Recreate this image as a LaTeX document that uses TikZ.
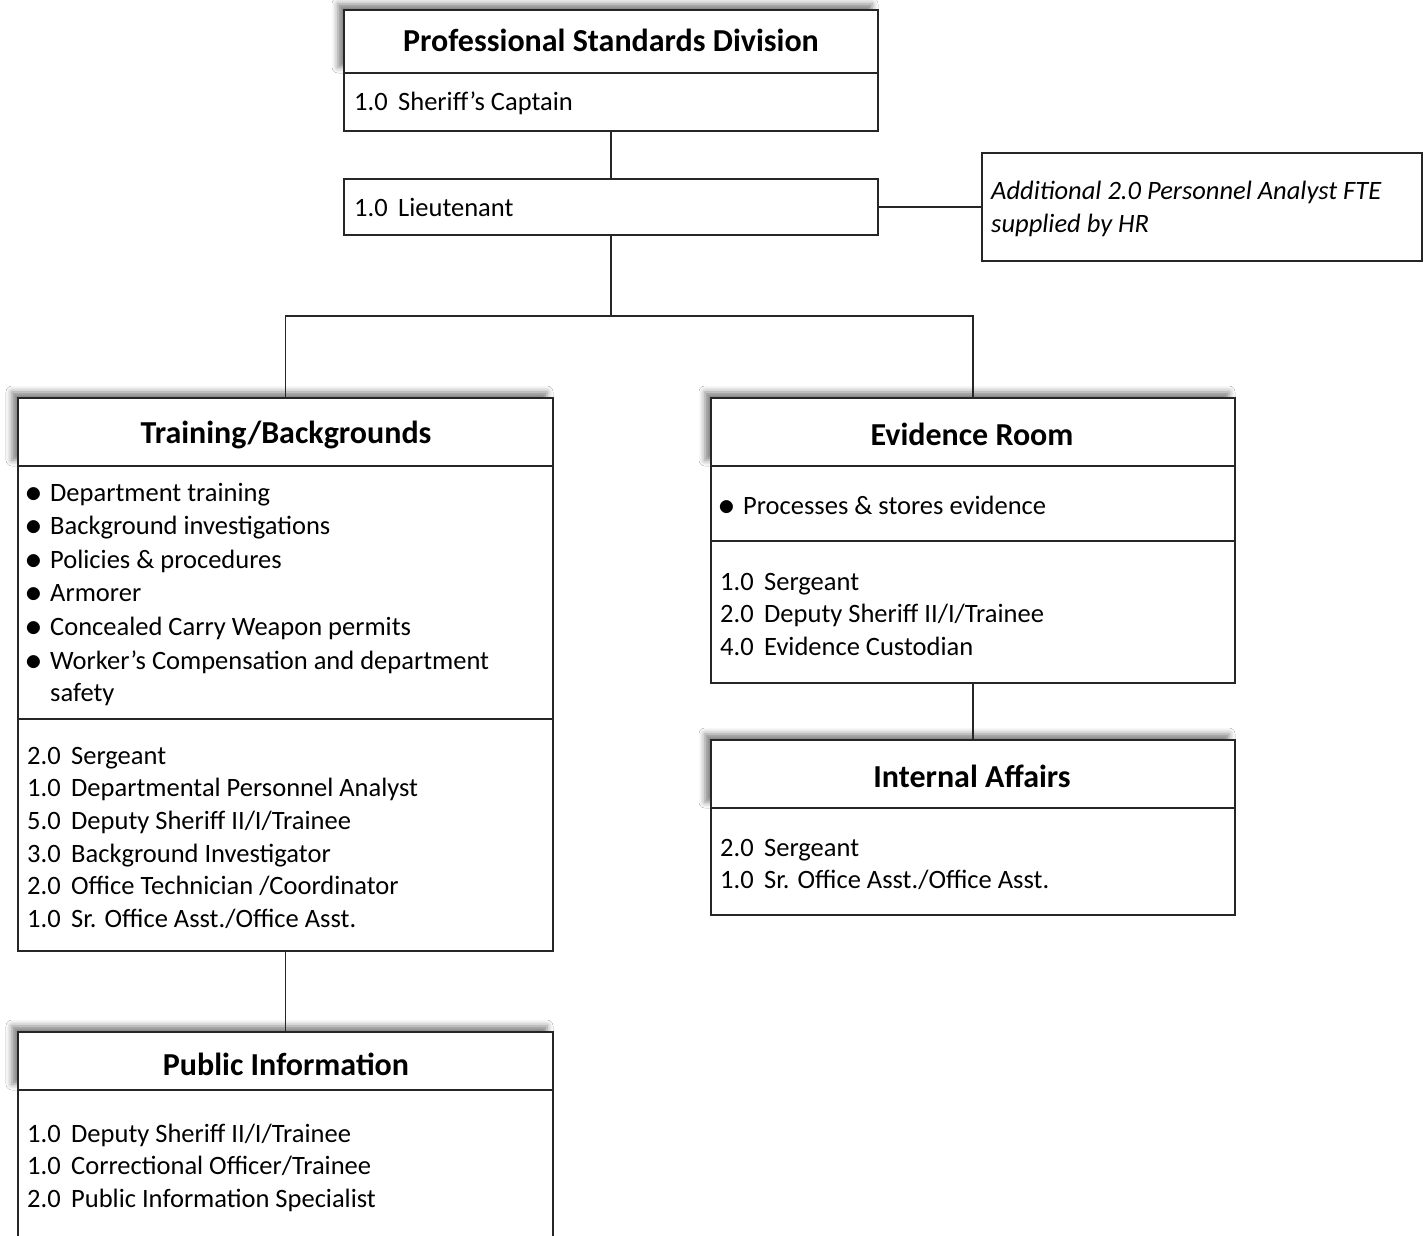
\documentclass[tikz,border=0pt]{standalone}
\usepackage{fontspec}
\setmainfont{Carlito}
\usetikzlibrary{shadows.blur}
\tikzset{
  cell/.style={draw=black!85, line width=1.3pt, fill=white, inner sep=0pt, outer sep=0pt, anchor=north west},
  headcell/.style={cell, blur shadow={shadow xshift=-6pt, shadow yshift=6pt, shadow blur radius=6pt, shadow opacity=50}},
  conn/.style={draw=black!85, line width=1.3pt},
  ttl/.style={font=\fontsize{32}{38}\selectfont\bfseries, inner sep=0pt},
  txt/.style={font=\fontsize{26.5}{32}\selectfont, inner sep=0pt, anchor=base west},
  itxt/.style={txt, font=\fontsize{26.5}{32}\selectfont\itshape},
}
\newcommand\num[1]{\makebox[44pt][l]{#1}}
\newcommand\bul{\makebox[23pt][l]{\hspace{-1.5pt}\raisebox{-1pt}{\scalebox{1.35}{$\bullet$}}}}
\begin{document}
\begin{tikzpicture}[x=1pt,y=-1pt]
\clip (0,0) rectangle (1425,1236);
\fill[white] (0,0) rectangle (1425,1236);
% cells
\node[headcell, minimum width=534pt, minimum height=63pt] (psdh) at (344,10) {};
\node[cell, minimum width=534pt, minimum height=58pt] (psdb) at (344,73) {};
\node[cell, minimum width=534pt, minimum height=56pt] (lt) at (344,179) {};
\node[cell, minimum width=440pt, minimum height=108pt] (hr) at (982,153) {};
\node[headcell, minimum width=535pt, minimum height=68pt] (trh) at (18,398) {};
\node[cell, minimum width=535pt, minimum height=253pt] (trb1) at (18,466) {};
\node[cell, minimum width=535pt, minimum height=232pt] (trb2) at (18,719) {};
\node[headcell, minimum width=524pt, minimum height=68pt] (evh) at (711,398) {};
\node[cell, minimum width=524pt, minimum height=75pt] (evb1) at (711,466) {};
\node[cell, minimum width=524pt, minimum height=142pt] (evb2) at (711,541) {};
\node[headcell, minimum width=524pt, minimum height=68pt] (iah) at (711,740) {};
\node[cell, minimum width=524pt, minimum height=107pt] (iab) at (711,808) {};
\node[headcell, minimum width=535pt, minimum height=58pt] (pih) at (18,1032) {};
\node[cell, minimum width=535pt, minimum height=180pt] (pib) at (18,1090) {};
% connectors
\coordinate (bus) at (611,316);
\draw[conn] (psdb.south) -- (lt.north);
\draw[conn] (lt.east) -- (hr.west);
\draw[conn] (lt.south) -- (bus);
\draw[conn] (bus) -| (trh.north);
\draw[conn] (bus) -| (evh.north);
\draw[conn] (evb2.south) -- (iah.north);
\draw[conn] (trb2.south) -- (pih.north);
% titles
\node[ttl] (psdt) at (611,40) {Professional Standards Division};
\node[ttl] (trt) at (286,435) {Training/Backgrounds};
\node[ttl] (evt) at (972,434) {Evidence Room};
\node[ttl] (iat) at (972,776) {Internal Affairs};
\node[ttl] (pit) at (286,1064) {Public Information};
% texts
\node[txt] (cap) at (354,111) {\num{1.0}Sheriff’s Captain};
\node[txt] (ltt) at (354,216) {\num{1.0}Lieutenant};
\node[itxt] (hr1) at (991,200) {Additional 2.0 Personnel Analyst FTE};
\node[itxt] (hr2) at (991,233) {supplied by HR};
% training duties
\node[txt] (d1) at (27,501) {\bul Department training};
\node[txt] (d2) at (27,534) {\bul Background investigations};
\node[txt] (d3) at (27,568) {\bul Policies \& procedures};
\node[txt] (d4) at (27,601) {\bul Armorer};
\node[txt] (d5) at (27,635) {\bul Concealed Carry Weapon permits};
\node[txt] (d6) at (27,669) {\bul Worker’s Compensation and department};
\node[txt] (d7) at (50,701) {safety};
% training staff
\node[txt] (s1) at (27,764) {\num{2.0}Sergeant};
\node[txt] (s2) at (27,796) {\num{1.0}Departmental Personnel Analyst};
\node[txt] (s3) at (27,829) {\num{5.0}Deputy Sheriff II/I/Trainee};
\node[txt] (s4) at (27,862) {\num{3.0}Background Investigator};
\node[txt] (s5) at (27,894) {\num{2.0}Office Technician /Coordinator};
\node[txt] (s6) at (27,927) {\num{1.0}Sr. Office Asst./Office Asst.};
% evidence
\node[txt] (e0) at (720,514) {\bul Processes \& stores evidence};
\node[txt] (e1) at (720,590) {\num{1.0}Sergeant};
\node[txt] (e2) at (720,622) {\num{2.0}Deputy Sheriff II/I/Trainee};
\node[txt] (e3) at (720,655) {\num{4.0}Evidence Custodian};
% internal affairs
\node[txt] (i1) at (720,856) {\num{2.0}Sergeant};
\node[txt] (i2) at (720,888) {\num{1.0}Sr. Office Asst./Office Asst.};
% public information
\node[txt] (p1) at (27,1142) {\num{1.0}Deputy Sheriff II/I/Trainee};
\node[txt] (p2) at (27,1174) {\num{1.0}Correctional Officer/Trainee};
\node[txt] (p3) at (27,1207) {\num{2.0}Public Information Specialist};
\end{tikzpicture}
\end{document}
